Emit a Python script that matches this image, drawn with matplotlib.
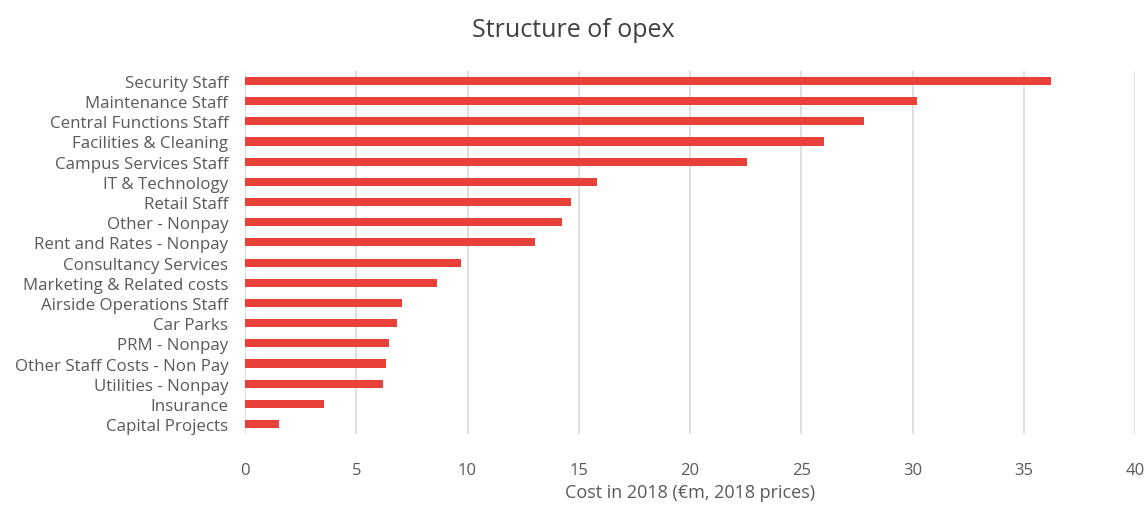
import matplotlib.pyplot as plt

categories = ['Security Staff', 'Maintenance Staff', 'Central Functions Staff',
              'Facilities & Cleaning', 'Campus Services Staff', 'IT & Technology',
              'Retail Staff', 'Other - Nonpay', 'Rent and Rates - Nonpay',
              'Consultancy Services', 'Marketing & Related costs',
              'Airside Operations Staff', 'Car Parks', 'PRM - Nonpay',
              'Other Staff Costs - Non Pay', 'Utilities - Nonpay', 'Insurance',
              'Capital Projects']
costs = [36.2, 30.2, 27.8, 26.0, 22.55, 15.8, 14.65, 14.25, 13.05,
         9.7, 8.65, 7.05, 6.85, 6.47, 6.35, 6.2, 3.53, 1.55]
xticks = [0, 5, 10, 15, 20, 25, 30, 35, 40]

plt.rcParams['font.family'] = ['Open Sans', 'DejaVu Sans']
text_col = '#595959'

fig = plt.figure(figsize=(11.47, 5.06), dpi=100)
ax = fig.add_axes([0.2136, 0.140, 0.776, 0.718])

ypos = range(len(categories))
ax.barh(ypos, costs, height=0.4, color='#E8413A', zorder=3)
ax.set_yticks(list(ypos))
ax.set_yticklabels(categories, fontsize=12.2, color=text_col)
ax.set_ylim(len(categories) - 0.5, -0.5)

ax.set_xlim(0, 40)
ax.set_xticks(xticks)
ax.set_xticklabels([str(t) for t in xticks], fontsize=12, color=text_col)
ax.tick_params(axis='both', length=0)
ax.tick_params(axis='x', pad=20)
ax.tick_params(axis='y', pad=12)
ax.grid(axis='x', color='#d9d9d9', linewidth=1.2, zorder=0)
for s in ax.spines.values():
    s.set_visible(False)

ax.set_xlabel('Cost in 2018 (€m, 2018 prices)', fontsize=13, color=text_col, labelpad=4)
fig.suptitle('Structure of opex', fontsize=18, color='#404040', y=0.965)

fig.savefig('out.png', dpi=100)
